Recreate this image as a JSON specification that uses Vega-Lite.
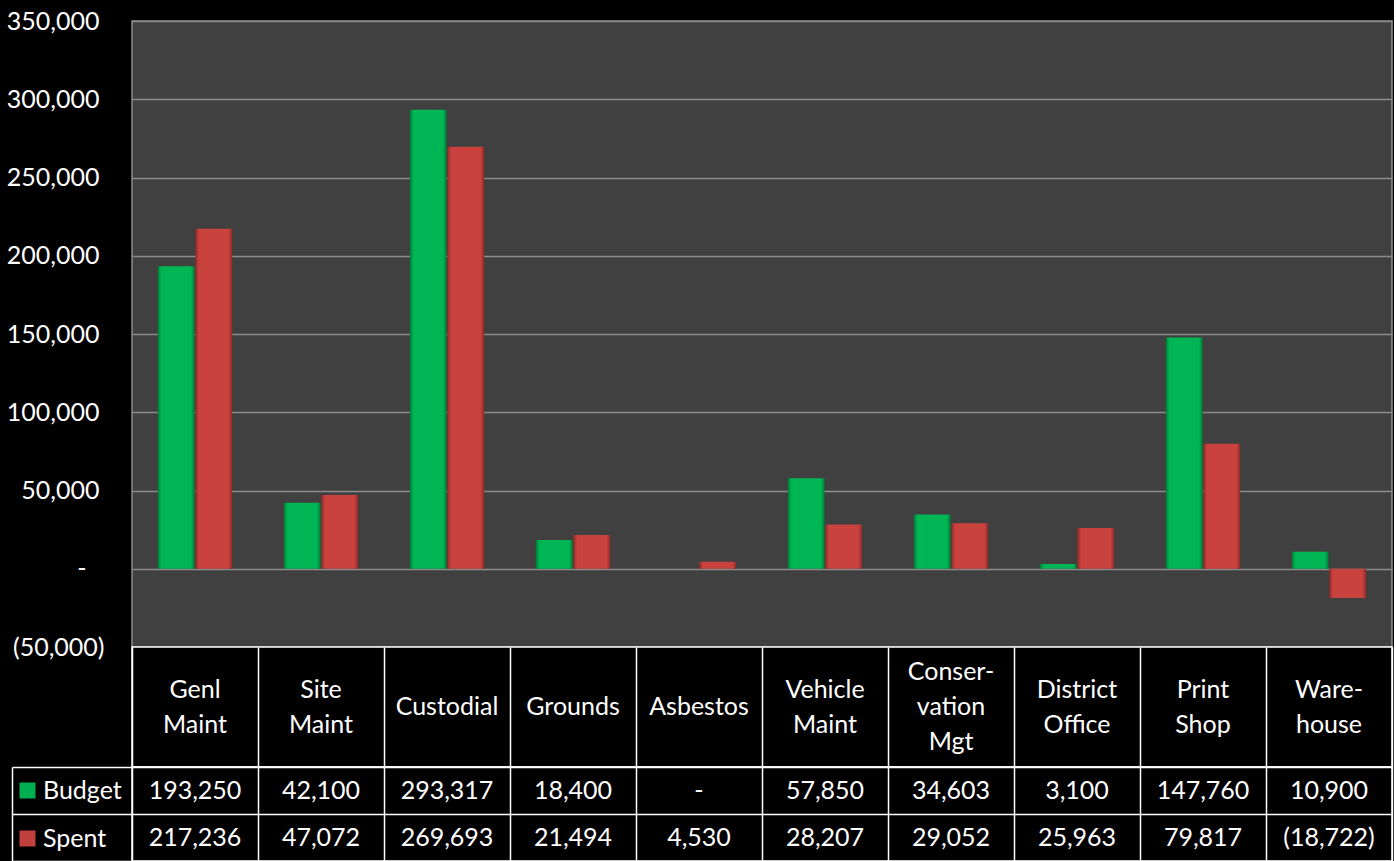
{
  "$schema": "https://vega.github.io/schema/vega-lite/v6.json",
  "background": "black",
  "padding": {"left": 3, "top": 8, "right": 0, "bottom": 0},
  "spacing": 0,
  "bounds": "flush",
  "config": {"font": "Lato", "text": {"font": "Lato"}, "axis": {"labelFont": "Lato"}, "legend": {"labelFont": "Lato"}},
  "data": {"values": [
    {"category": "Genl Maint", "header": "Genl\nMaint", "series": "Budget", "value": 193250},
    {"category": "Genl Maint", "header": "Genl\nMaint", "series": "Spent", "value": 217236},
    {"category": "Site Maint", "header": "Site\nMaint", "series": "Budget", "value": 42100},
    {"category": "Site Maint", "header": "Site\nMaint", "series": "Spent", "value": 47072},
    {"category": "Custodial", "header": "Custodial", "series": "Budget", "value": 293317},
    {"category": "Custodial", "header": "Custodial", "series": "Spent", "value": 269693},
    {"category": "Grounds", "header": "Grounds", "series": "Budget", "value": 18400},
    {"category": "Grounds", "header": "Grounds", "series": "Spent", "value": 21494},
    {"category": "Asbestos", "header": "Asbestos", "series": "Budget", "value": 0},
    {"category": "Asbestos", "header": "Asbestos", "series": "Spent", "value": 4530},
    {"category": "Vehicle Maint", "header": "Vehicle\nMaint", "series": "Budget", "value": 57850},
    {"category": "Vehicle Maint", "header": "Vehicle\nMaint", "series": "Spent", "value": 28207},
    {"category": "Conservation Mgt", "header": "Conser-\nvation\nMgt", "series": "Budget", "value": 34603},
    {"category": "Conservation Mgt", "header": "Conser-\nvation\nMgt", "series": "Spent", "value": 29052},
    {"category": "District Office", "header": "District\nOffice", "series": "Budget", "value": 3100},
    {"category": "District Office", "header": "District\nOffice", "series": "Spent", "value": 25963},
    {"category": "Print Shop", "header": "Print\nShop", "series": "Budget", "value": 147760},
    {"category": "Print Shop", "header": "Print\nShop", "series": "Spent", "value": 79817},
    {"category": "Warehouse", "header": "Ware-\nhouse", "series": "Budget", "value": 10900},
    {"category": "Warehouse", "header": "Ware-\nhouse", "series": "Spent", "value": -18722}
  ]},
  "resolve": {"scale": {"x": "independent", "y": "independent", "color": "independent"}},
  "vconcat": [
    {
      "width": 1260,
      "height": 626,
      "view": {"fill": "#404040", "stroke": "#8c8c8c", "strokeWidth": 1.5},
      "encoding": {
        "x": {"field": "category", "type": "nominal", "axis": null,
              "scale": {"domain": ["Genl Maint", "Site Maint", "Custodial", "Grounds", "Asbestos", "Vehicle Maint", "Conservation Mgt", "District Office", "Print Shop", "Warehouse"],
                        "paddingInner": 0.41, "paddingOuter": 0.205}},
        "xOffset": {"field": "series", "type": "nominal",
                    "scale": {"domain": ["Budget", "Spent"], "paddingInner": 0.02}},
        "y": {"field": "value", "type": "quantitative",
              "scale": {"domain": [-50000, 350000], "nice": false},
              "axis": {
                "title": null,
                "values": [-50000, 0, 50000, 100000, 150000, 200000, 250000, 300000, 350000],
                "format": "(,.0f",
                "labelExpr": "datum.value == 0 ? '-' : datum.label",
                "labelFont": "Lato", "labelFontSize": 25, "labelColor": "white",
                "labelPadding": {"condition": [{"test": "datum.value < 0", "value": 28}, {"test": "datum.value == 0", "value": 46}], "value": 33},
                "domain": false, "ticks": false,
                "grid": true, "gridColor": "#8c8c8c", "gridWidth": 1.5
              }}
      },
      "layer": [
        {
          "transform": [{"filter": "datum.series === 'Budget'"}],
          "mark": {"type": "bar",
                   "fill": {"gradient": "linear", "x1": 0, "y1": 0, "x2": 1, "y2": 0,
                            "stops": [{"offset": 0, "color": "#007a36"}, {"offset": 0.1, "color": "#00b654"}, {"offset": 0.9, "color": "#00b654"}, {"offset": 1, "color": "#007a36"}]}}
        },
        {
          "transform": [{"filter": "datum.series === 'Spent'"}],
          "mark": {"type": "bar",
                   "fill": {"gradient": "linear", "x1": 0, "y1": 0, "x2": 1, "y2": 0,
                            "stops": [{"offset": 0, "color": "#8e2a27"}, {"offset": 0.1, "color": "#c9423e"}, {"offset": 0.9, "color": "#c9423e"}, {"offset": 1, "color": "#8e2a27"}]}}
        }
      ]
    },
    {
      "width": 1260,
      "height": 120,
      "view": {"fill": "black", "stroke": "white", "strokeWidth": 1.5},
      "transform": [{"filter": "datum.series === 'Budget'"}],
      "encoding": {
        "x": {"field": "category", "type": "nominal",
              "scale": {"domain": ["Genl Maint", "Site Maint", "Custodial", "Grounds", "Asbestos", "Vehicle Maint", "Conservation Mgt", "District Office", "Print Shop", "Warehouse"],
                        "paddingInner": 0, "paddingOuter": 0},
              "axis": {"title": null, "labels": false, "ticks": false, "domain": false,
                       "grid": true, "gridColor": "white", "gridWidth": 1.5, "tickBand": "extent"}},
        "text": {"field": "header", "type": "nominal"}
      },
      "layer": [
        {
          "transform": [{"filter": "indexof(datum.header, '\\n') < 0"}],
          "mark": {"type": "text", "lineBreak": "\n", "lineHeight": 35, "fontSize": 25, "font": "Lato", "color": "white"}
        },
        {
          "transform": [{"filter": "indexof(datum.header, '\\n') >= 0 && indexof(datum.header, '\\n') == lastindexof(datum.header, '\\n')"}],
          "mark": {"type": "text", "lineBreak": "\n", "lineHeight": 35, "fontSize": 25, "font": "Lato", "color": "white", "dy": -17.5}
        },
        {
          "transform": [{"filter": "indexof(datum.header, '\\n') >= 0 && indexof(datum.header, '\\n') != lastindexof(datum.header, '\\n')"}],
          "mark": {"type": "text", "lineBreak": "\n", "lineHeight": 35, "fontSize": 25, "font": "Lato", "color": "white", "dy": -35}
        }
      ]
    },
    {
      "width": 1260,
      "height": 94,
      "view": {"fill": "black", "stroke": "white", "strokeWidth": 1.5},
      "encoding": {
        "x": {"field": "category", "type": "nominal",
              "scale": {"domain": ["Genl Maint", "Site Maint", "Custodial", "Grounds", "Asbestos", "Vehicle Maint", "Conservation Mgt", "District Office", "Print Shop", "Warehouse"],
                        "paddingInner": 0, "paddingOuter": 0},
              "axis": {"title": null, "labels": false, "ticks": false, "domain": false,
                       "grid": true, "gridColor": "white", "gridWidth": 1.5, "tickBand": "extent"}},
        "y": {"field": "series", "type": "nominal",
              "scale": {"domain": ["Budget", "Spent"], "paddingInner": 0, "paddingOuter": 0},
              "axis": {"orient": "left", "offset": 120, "title": null, "labels": false, "grid": false,
                       "tickSize": -1380, "tickBand": "extent", "tickColor": "white", "tickWidth": 1.5,
                       "domain": true, "domainColor": "white", "domainWidth": 1.5}}
      },
      "layer": [
        {
          "mark": {"type": "point", "shape": "square", "filled": true, "opacity": 0},
          "encoding": {
            "color": {"field": "series", "type": "nominal",
                      "scale": {"domain": ["Budget", "Spent"], "range": ["#00b050", "#c0403c"]},
                      "legend": {"title": null, "orient": "left", "offset": -122, "padding": 11,
                                 "symbolType": "square", "symbolSize": 256, "symbolOpacity": 1,
                                 "symbolStrokeWidth": 0, "labelFontSize": 25, "labelColor": "white",
                                 "labelFont": "Lato", "labelOffset": 3, "rowPadding": 22}}
          }
        },
        {
          "mark": {"type": "text", "fontSize": 25, "font": "Lato", "color": "white"},
          "encoding": {
            "text": {"condition": {"test": "datum.value === 0", "value": "-"},
                     "field": "value", "type": "quantitative", "format": "(,.0f"}
          }
        }
      ]
    }
  ]
}
